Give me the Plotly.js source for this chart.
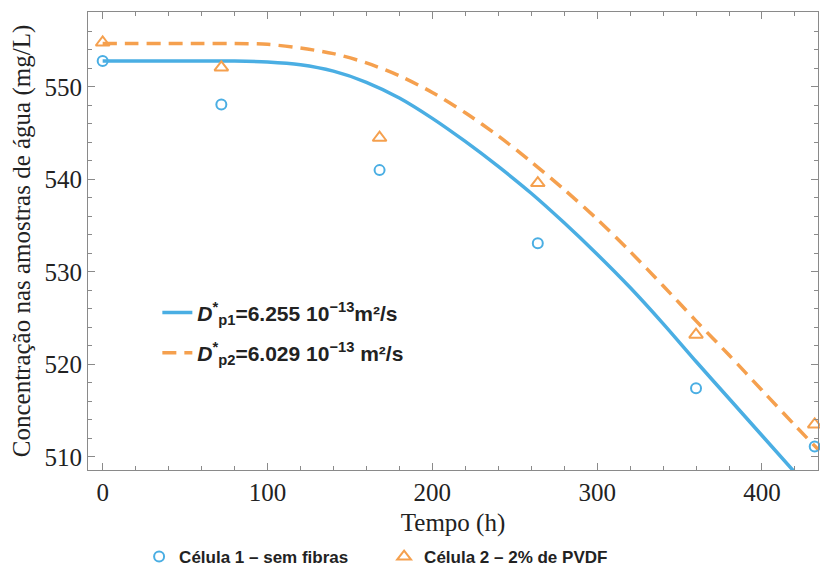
<!DOCTYPE html>
<html>
<head>
<meta charset="utf-8">
<script src="https://cdn.plot.ly/plotly-3.0.1.min.js"></script>
<style>html,body{margin:0;padding:0;background:#fff;}#chart{width:820px;height:566px;}</style>
</head>
<body>
<div id="chart"></div>
<script>
// Experimental points
const timePoints = [0, 72, 168, 264, 360, 432];
const cell1Values = [552.8, 548.1, 541.0, 533.1, 517.4, 511.1];
const cell2Values = [554.8, 552.1, 544.5, 539.6, 523.2, 513.5];

// Model curves
const curve1Time = [0, 20, 40, 60, 80, 100, 120, 140, 160, 180, 200, 220, 240, 260, 280, 300, 320, 340, 360, 380, 400, 420];
const curve1Values = [552.8, 552.8, 552.8, 552.8, 552.8, 552.7, 552.4, 551.7, 550.5, 548.8, 546.6, 544.1, 541.4, 538.5, 535.3, 531.9, 528.3, 524.4, 520.3, 516.3, 512.3, 508.3];
const curve2Time = [0, 20, 40, 60, 80, 100, 120, 140, 160, 180, 200, 220, 240, 260, 280, 300, 320, 340, 360, 380, 400, 420, 434];
const curve2Values = [554.7, 554.7, 554.7, 554.7, 554.7, 554.6, 554.2, 553.6, 552.6, 551.2, 549.4, 547.2, 544.7, 541.9, 538.9, 535.7, 532.2, 528.5, 524.7, 521.0, 517.2, 513.4, 510.8];

const legendCurve1 = "<b><i>D</i><sup>*</sup><sub>p1</sub>=6.255 10<sup>−13</sup>m²/s</b>";
const legendCurve2 = "<b><i>D</i><sup>*</sup><sub>p2</sub>=6.029 10<sup>−13</sup> m²/s</b>";
const legendCell1 = "<b>Célula 1 – sem fibras</b>";
const legendCell2 = "<b>Célula 2 – 2% de PVDF</b>";
const xTitle = "Tempo (h)";
const yTitle = "Concentração nas amostras de água (mg/L)";

const blue = "#4aaee3";
const orange = "#f5a04e";

const traces = [
  {x: curve1Time, y: curve1Values, mode: "lines", name: legendCurve1, legend: "legend", legendgroup: "c1",
   line: {color: blue, width: 3.5, shape: "spline", smoothing: 0.8}, hoverinfo: "skip"},
  {x: curve2Time, y: curve2Values, mode: "lines", name: legendCurve2, legend: "legend", legendgroup: "c2",
   line: {color: orange, width: 3.5, dash: "14px,8px", shape: "spline", smoothing: 0.8}, hoverinfo: "skip"},
  {x: timePoints, y: cell1Values, mode: "markers", name: legendCell1, legend: "legend2",
   marker: {symbol: "circle-open", size: 10, color: blue, line: {width: 2, color: blue}}, cliponaxis: false},
  {x: timePoints, y: cell2Values, mode: "markers", name: legendCell2, legend: "legend2",
   marker: {symbol: "triangle-up-open", size: 12, color: orange, line: {width: 2, color: orange}}, cliponaxis: false}
];

const axisCommon = {
  showgrid: false, zeroline: false,
  showline: true, linecolor: "#8a8a8a", linewidth: 1, mirror: "allticks",
  ticks: "inside", ticklen: 7, tickcolor: "#8a8a8a", tickwidth: 1,
  tickfont: {family: "Liberation Serif, serif", size: 25, color: "#222"}
};

const layout = {
  width: 820, height: 566,
  margin: {l: 88, r: 2, t: 12, b: 96, autoexpand: false},
  paper_bgcolor: "#fff", plot_bgcolor: "#fff",
  xaxis: Object.assign({}, axisCommon, {
    range: [-8.9, 434.0], dtick: 100, tick0: 0,
    minor: {dtick: 20, ticks: "inside", ticklen: 4, tickcolor: "#8a8a8a"},
    title: {text: xTitle, font: {family: "Liberation Serif, serif", size: 25, color: "#222"}, standoff: 8}
  }),
  yaxis: Object.assign({}, axisCommon, {
    range: [508.57, 558.1], dtick: 10, tick0: 510,
    minor: {dtick: 2, ticks: "inside", ticklen: 4, tickcolor: "#8a8a8a"},
    title: {text: yTitle, font: {family: "Liberation Serif, serif", size: 25, color: "#222"}, standoff: 6}
  }),
  legend: {
    x: 0.095, y: 0.388, xanchor: "left", yanchor: "top",
    bgcolor: "rgba(0,0,0,0)", borderwidth: 0,
    font: {family: "Liberation Sans, Arial, sans-serif", size: 21, color: "#222"},
    itemwidth: 30, tracegroupgap: 10
  },
  legend2: {
    orientation: "h", x: 0.07, y: -0.19, xanchor: "left", yanchor: "middle",
    bgcolor: "rgba(0,0,0,0)",
    font: {family: "Liberation Sans, Arial, sans-serif", size: 17, color: "#222"},
    itemwidth: 30, entrywidth: 200, entrywidthmode: "pixels"
  },
  showlegend: true
};

Plotly.newPlot("chart", traces, layout, {displayModeBar: false, staticPlot: true});
</script>
</body>
</html>
